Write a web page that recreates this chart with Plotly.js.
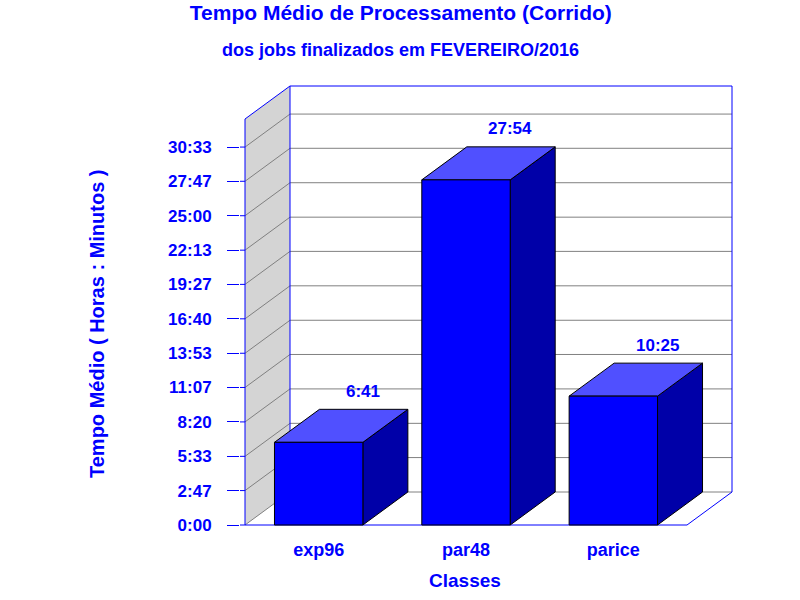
<!DOCTYPE html>
<html>
<head>
<meta charset="utf-8">
<script src="https://cdn.plot.ly/plotly-3.0.1.min.js"></script>
<style>
  html, body { margin: 0; padding: 0; background: #fff; }
  #myDiv { width: 800px; height: 600px; }
</style>
</head>
<body>
<div id="myDiv"></div>
<script>
// data
var classes = ['exp96', 'par48', 'parice'];
var mediaLabels = ['6:41', '27:54', '10:25'];
var tickLabels = ['0:00', '2:47', '5:33', '8:20', '11:07', '13:53', '16:40',
                  '19:27', '22:13', '25:00', '27:47', '30:33'];

function toHours(s) {
  var p = s.split(':');
  return parseInt(p[0], 10) + parseInt(p[1], 10) / 60;
}
var medias = mediaLabels.map(toHours);
var tickVals = tickLabels.map(toHours);

var BLUE = '#0000ff';
var GRID = '#808080';
var FONT = 'Liberation Sans, Arial, sans-serif';

// 3d look: depth offset of the box, in axis units
var pxX = 442 / 3;        // pixels per category
var pxY = 12.371;         // pixels per hour
var ox = 45 / pxX;
var oy = 33 / pxY;
var yTop = 439 / pxY;     // back top of the box
var frontTop = yTop - oy;
var nCat = classes.length;
var barW = 0.6;
var padX = 5 / pxX, padY = 5 / pxY;

function px(x) { return (x - 240) / 497; }   // pixel -> paper
function py(y) { return (530 - y) / 449; }

function path(pts) {
  return 'M' + pts.map(function (p) { return p[0] + ',' + p[1]; }).join(' L') + ' Z';
}

var shapes = [];
// left wall
shapes.push({type: 'path', xref: 'x', yref: 'y', layer: 'below',
  path: path([[0, 0], [ox, oy], [ox, yTop], [0, frontTop]]),
  fillcolor: '#d4d4d4', line: {width: 0}});
// grid lines on left and back wall
tickVals.forEach(function (v) {
  shapes.push({type: 'line', xref: 'x', yref: 'y', layer: 'below',
    x0: 0, y0: v, x1: ox, y1: v + oy, line: {color: GRID, width: 1}});
  shapes.push({type: 'line', xref: 'x', yref: 'y', layer: 'below',
    x0: ox, y0: v + oy, x1: nCat + ox, y1: v + oy, line: {color: GRID, width: 1}});
  // rest of the tick mark, up to the front edge
  shapes.push({type: 'line', xref: 'x', yref: 'y', layer: 'below',
    x0: -padX, y0: v, x1: 0, y1: v, line: {color: BLUE, width: 1}});
});
// blue edges of the box
var edges = [
  [[0, 0], [0, frontTop]],
  [[0, frontTop], [ox, yTop]],
  [[ox, oy], [ox, yTop]],
  [[ox, yTop], [nCat + ox, yTop]],
  [[nCat + ox, yTop], [nCat + ox, oy]],
  [[nCat + ox, oy], [nCat, 0]],
  [[0, 0], [nCat, 0]]
];
edges.forEach(function (e) {
  shapes.push({type: 'line', xref: 'x', yref: 'y', layer: 'below',
    x0: e[0][0], y0: e[0][1], x1: e[1][0], y1: e[1][1],
    line: {color: BLUE, width: 1}});
});

function face(xs, ys, color) {
  return {x: xs, y: ys, type: 'scatter', mode: 'lines', fill: 'toself',
    fillcolor: color, line: {color: '#000', width: 1},
    hoverinfo: 'skip', showlegend: false};
}

var data = [];
var annotations = [];
medias.forEach(function (v, i) {
  var c = i + 0.5, x0 = c - barW / 2, x1 = c + barW / 2;
  data.push(face([x1, x1 + ox, x1 + ox, x1, x1], [0, oy, v + oy, v, 0], '#0000a8'));
  data.push(face([x0, x0 + ox, x1 + ox, x1, x0], [v, v + oy, v + oy, v, v], '#5050ff'));
  data.push(face([x0, x0, x1, x1, x0], [0, v, v, 0, 0], '#0000ff'));
  annotations.push({x: c + ox, y: v + oy, xref: 'x', yref: 'y', yshift: 18,
    xshift: -1, text: mediaLabels[i], showarrow: false,
    font: {family: FONT, size: 17, color: BLUE, weight: 'bold'}});
});

annotations.push({x: px(400), y: py(50), xref: 'paper', yref: 'paper',
  text: 'dos jobs finalizados em FEVEREIRO/2016', showarrow: false,
  xanchor: 'center', yanchor: 'middle',
  font: {family: FONT, size: 18, color: BLUE, weight: 'bold'}});
annotations.push({x: px(97), y: py(324), xref: 'paper', yref: 'paper',
  text: 'Tempo Médio ( Horas : Minutos )', showarrow: false, textangle: -90,
  xanchor: 'center', yanchor: 'middle',
  font: {family: FONT, size: 20, color: BLUE, weight: 'bold'}});
annotations.push({x: px(465), y: py(580), xref: 'paper', yref: 'paper',
  text: 'Classes', showarrow: false, xanchor: 'center', yanchor: 'middle',
  font: {family: FONT, size: 19, color: BLUE, weight: 'bold'}});

var layout = {
  width: 800, height: 600,
  paper_bgcolor: '#fff', plot_bgcolor: 'rgba(0,0,0,0)',
  margin: {l: 240, r: 63, t: 81, b: 70},
  showlegend: false,
  title: {text: 'Tempo Médio de Processamento (Corrido)',
    xref: 'container', yref: 'container', x: 0.501, y: 1 - 13 / 600,
    xanchor: 'center', yanchor: 'middle',
    font: {family: FONT, size: 21, color: BLUE, weight: 'bold'}},
  xaxis: {
    range: [-padX, nCat + ox + padX], fixedrange: true,
    showgrid: false, zeroline: false, showline: false,
    tickvals: classes.map(function (d, i) { return i + 0.5; }),
    ticktext: classes, ticks: '', ticklabelstandoff: 7,
    tickfont: {family: FONT, size: 18, color: BLUE, weight: 'bold'}
  },
  yaxis: {
    range: [-padY, yTop + padY], fixedrange: true,
    showgrid: false, zeroline: false, showline: false,
    tickvals: tickVals, ticktext: tickLabels,
    ticks: 'outside', ticklen: 12, tickcolor: BLUE, tickwidth: 1,
    ticklabelstandoff: 12,
    tickfont: {family: FONT, size: 17, color: BLUE, weight: 'bold'}
  },
  shapes: shapes,
  annotations: annotations
};

Plotly.newPlot('myDiv', data, layout, {staticPlot: true});
</script>
</body>
</html>
